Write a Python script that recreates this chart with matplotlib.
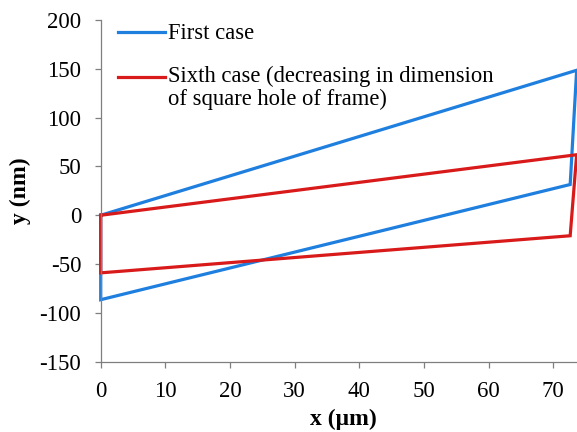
import matplotlib
matplotlib.use("Agg")
import matplotlib.pyplot as plt
from matplotlib.lines import Line2D

# Data (x in µm, y in nm)
first_x = [0.0, 73.6, 72.6, 0.0, 0.0]
first_y = [0.0, 148.5, 31.5, -86.5, 0.0]
sixth_x = [0.0, 73.6, 72.6, 0.0, 0.0]
sixth_y = [0.0, 62.0, -21.0, -59.0, 0.0]

xticks = [0, 10, 20, 30, 40, 50, 60, 70]
yticks = [-150, -100, -50, 0, 50, 100, 150, 200]

labels = ["First case", "Sixth case (decreasing in dimension\nof square hole of frame)"]

blue = "#1f7fdf"
red = "#d91a1a"
gray = "#7f7f7f"

plt.rcParams["font.family"] = ["Liberation Serif", "DejaVu Serif"]

W, H = 577, 432
fig = plt.figure(figsize=(W / 100, H / 100), dpi=100)
left_px, right_px, top_px, bot_px = 100.7, 585.7, 20.0, 361.7
ax = fig.add_axes([left_px / W, 1 - bot_px / H, (right_px - left_px) / W, (bot_px - top_px) / H])

ax.plot(first_x, first_y, color=blue, lw=2.3, solid_joinstyle="miter", clip_on=False)
ax.plot(sixth_x, sixth_y, color=red, lw=2.3, solid_joinstyle="miter", clip_on=False)

ax.set_xlim(0, 75)
ax.set_ylim(-150, 200)
ax.set_xticks(xticks)
ax.set_yticks(yticks)
ax.set_xticklabels([str(v) for v in xticks], fontsize=16.5)
ax.set_yticklabels([str(v) for v in yticks], fontsize=16.5)

for s in ["top", "right"]:
    ax.spines[s].set_visible(False)
for s in ["left", "bottom"]:
    ax.spines[s].set_color(gray)
    ax.spines[s].set_linewidth(0.9)
ax.tick_params(axis="both", direction="out", length=4, width=0.9, color=gray, pad=10)

ax.set_xlabel("x (μm)", fontsize=17, fontweight="bold", labelpad=5)
ax.set_ylabel("y (nm)", fontsize=17, fontweight="bold", labelpad=6)

# Legend (manual, to match layout)
def fx(px):
    return px / W

def fy(py):
    return 1 - py / H

fig.add_artist(Line2D([fx(118), fx(165)], [fy(31.5), fy(31.5)], color=blue, lw=2.3, transform=fig.transFigure))
fig.add_artist(Line2D([fx(118), fx(165)], [fy(76.7), fy(76.7)], color=red, lw=2.3, transform=fig.transFigure))
fig.text(fx(168), fy(39.3), labels[0], fontsize=16.3, va="baseline", ha="left")
fig.text(fx(168), fy(82), labels[1].split("\n")[0], fontsize=16.3, va="baseline", ha="left")
fig.text(fx(168), fy(105), labels[1].split("\n")[1], fontsize=16.3, va="baseline", ha="left")

fig.savefig("out.png", dpi=100)
